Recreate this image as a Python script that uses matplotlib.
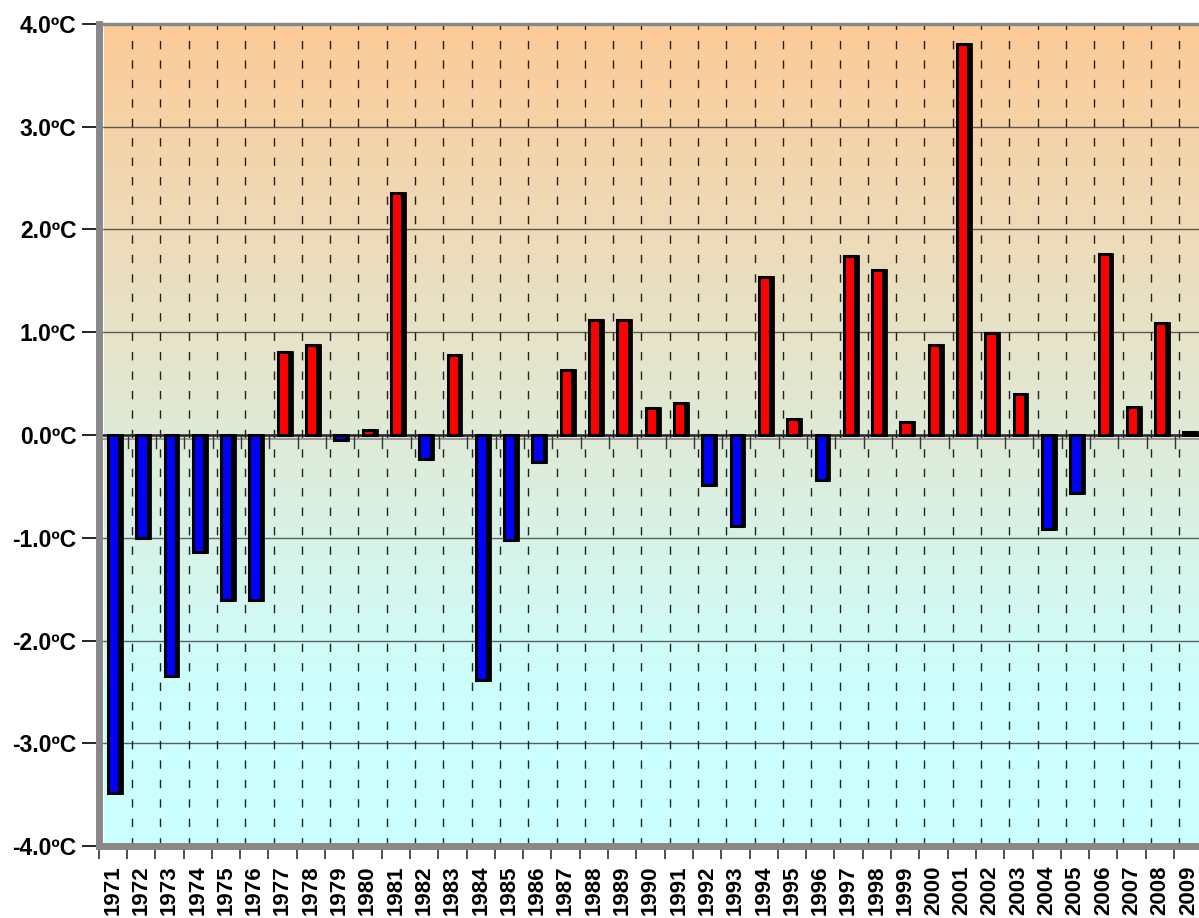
import numpy as np
import matplotlib
matplotlib.use("Agg")
import matplotlib.pyplot as plt
from matplotlib.colors import LinearSegmentedColormap

years = [str(y) for y in range(1971, 2010)]
anomalies = [-3.48, -1.00, -2.35, -1.14, -1.61, -1.61, 0.81, 0.88, -0.05, 0.05,
             2.36, -0.23, 0.78, -2.38, -1.02, -0.26, 0.63, 1.12, 1.12, 0.26,
             0.31, -0.49, -0.89, 1.54, 0.16, -0.44, 1.74, 1.61, 0.13, 0.88,
             3.81, 0.99, 0.40, -0.91, -0.56, 1.76, 0.27, 1.09, 0.03]
ytick_vals = [-4, -3, -2, -1, 0, 1, 2, 3, 4]
ytick_labels = ["-4.0ºC", "-3.0ºC", "-2.0ºC", "-1.0ºC", "0.0ºC", "1.0ºC", "2.0ºC", "3.0ºC", "4.0ºC"]

plt.rcParams['font.family'] = ['Liberation Sans', 'DejaVu Sans']

fig = plt.figure(figsize=(11.99, 9.18), dpi=100)
W, H = 1199, 918
left_px, right_px, top_px, bot_px = 98.6, 1207.5, 24, 846
ax = fig.add_axes([left_px / W, 1 - bot_px / H, (right_px - left_px) / W, (bot_px - top_px) / H])

n = len(years)
x = np.arange(n)
ax.set_xlim(-0.5, n - 0.5)
ax.set_ylim(-4, 4)

# gradient background
top_c = np.array([253, 203, 152]) / 255
bot_c = np.array([204, 255, 255]) / 255
cmap = LinearSegmentedColormap.from_list("bg", [(0.0, bot_c), (0.18, bot_c), (1.0, top_c)])
grad = np.linspace(0, 1, 256).reshape(-1, 1)
ax.imshow(grad, extent=(-0.5, n - 0.5, -4, 4), origin='lower', aspect='auto', cmap=cmap, zorder=0)

# horizontal grid
for v in ytick_vals[1:-1]:
    if v != 0:
        ax.axhline(v, color='#3a3a3a', lw=1.0, alpha=0.8, zorder=1)

# dashed vertical lines at category boundaries
for b in np.arange(0.5, n, 1.0):
    ax.axvline(b, color='black', lw=1.0, ls=(0, (6, 8)), alpha=0.85, zorder=1)

# zero line with small ticks below
ax.axhline(0, color='#222222', lw=1.8, zorder=2)
ax.axhline(-0.04, color='#999999', lw=1.5, zorder=1.9)
for b in np.arange(0.5, n, 1.0):
    ax.plot([b - 0.15, b - 0.15], [0, -0.13], color='#333333', lw=1.0, zorder=2)

# bars with 3D-ish shadow
colors = ['#ff0000' if v > 0 else '#0000ff' for v in anomalies]
ax.bar(x - 0.08, anomalies, width=0.44, color='black', edgecolor='black', lw=2.0, zorder=3)
ax.bar(x - 0.15, anomalies, width=0.40, color=colors, edgecolor='black', lw=2.2, zorder=4)

# spines
for s in ['left', 'bottom']:
    ax.spines[s].set_color('#888888')
    ax.spines[s].set_linewidth(5)
ax.spines['top'].set_color('#888888')
ax.spines['top'].set_linewidth(2.5)
ax.spines['right'].set_visible(False)

ax.set_yticks(ytick_vals)
ax.set_yticklabels(ytick_labels, fontsize=16.5, fontweight='bold')
ax.tick_params(axis='y', length=12, width=1.2, color='black', pad=4)

ax.set_xticks(x - 0.18)
ax.set_xticklabels(years, rotation=90, fontsize=16, fontweight='bold')
ax.set_xticks(np.arange(-0.5, n, 1.0) - 0.18, minor=True)
ax.tick_params(axis='x', which='major', length=0, pad=14)
ax.tick_params(axis='x', which='minor', length=9, width=1.2, color='#333333')

fig.savefig("out.png", dpi=100)
